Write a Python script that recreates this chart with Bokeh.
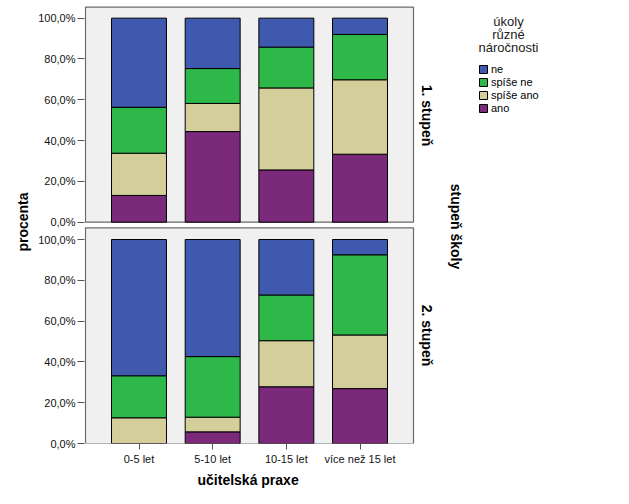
import math
from bokeh.plotting import figure
from bokeh.models import (ColumnDataSource, Range1d, FixedTicker, Label, Legend, LegendItem, Title)
from bokeh.embed import file_html
from bokeh.resources import INLINE

# ---------------- data ----------------
categories = ["0-5 let", "5-10 let", "10-15 let", "více než 15 let"]
answers = ["ano", "spíše ano", "spíše ne", "ne"]          # stacked bottom -> top
panels = ["1. stupeň", "2. stupeň"]

# 1. stupeň (percent of each category)
ano_1 = [13.1, 44.4, 25.6, 33.3]
spise_ano_1 = [20.7, 13.8, 40.2, 36.5]
spise_ne_1 = [22.5, 17.1, 20.0, 22.2]
ne_1 = [43.7, 24.7, 14.2, 8.0]

# 2. stupeň
ano_2 = [0.0, 5.7, 27.8, 26.9]
spise_ano_2 = [12.6, 7.2, 22.6, 26.3]
spise_ne_2 = [20.6, 29.7, 22.4, 39.3]
ne_2 = [66.8, 57.4, 27.2, 7.5]

y_ticks = [0, 20, 40, 60, 80, 100]
y_tick_labels = ["0,0%", "20,0%", "40,0%", "60,0%", "80,0%", "100,0%"]

colors = {"ano": "#7B2A7B", "spíše ano": "#D4CF9A", "spíše ne": "#2EB84A", "ne": "#3E59AD"}

# ---------------- layout constants ----------------
W, H = 600, 500
FRAME_L, FRAME_R = 84, 600
FRAME_H = 443
SPACING = 73.67
X0 = -(138.5 - FRAME_L) / SPACING
X1 = X0 + (FRAME_R - FRAME_L) / SPACING
PXU = 2.04                      # pixels per percent
Y0, Y1 = 0.0, FRAME_H / PXU
TOP_OFFSET = 108.5              # data offset of top panel's 0%
BOX_TOP_BOTTOM = 105.7          # bottom panel box top
BOX_TOP_TOP = 213.9             # top panel box top
BOX_L = -(138.5 - 85) / SPACING
BOX_R = 3 + (413 - 359.5) / SPACING
FONT = "Liberation Sans"

def dx(cx):
    return X0 + (cx - FRAME_L) / SPACING

def dy(cy):
    return (FRAME_H - cy) / PXU

p = figure(width=W, height=H, x_range=Range1d(X0, X1), y_range=Range1d(Y0, Y1),
           output_backend="svg", toolbar_location=None,
           min_border_left=FRAME_L, min_border_right=W - FRAME_R,
           min_border_top=0, min_border_bottom=H - FRAME_H)
p.outline_line_color = None
p.grid.visible = False
p.background_fill_color = "white"
p.border_fill_color = "white"

# panel boxes
p.quad(left=[BOX_L, BOX_L], right=[BOX_R, BOX_R],
       bottom=[0, TOP_OFFSET], top=[BOX_TOP_BOTTOM, BOX_TOP_TOP],
       fill_color="#F0F0F0", line_color="#6A6A6A", line_width=1.2)

# stacked bars
series = {
    "ano": (ano_1, ano_2),
    "spíše ano": (spise_ano_1, spise_ano_2),
    "spíše ne": (spise_ne_1, spise_ne_2),
    "ne": (ne_1, ne_2),
}
cum1 = [0.0] * len(categories)
cum2 = [0.0] * len(categories)
renderers = {}
for ans in answers:
    v1, v2 = series[ans]
    xs, bottoms, tops = [], [], []
    for i in range(len(categories)):
        xs.append(i); bottoms.append(TOP_OFFSET + cum1[i]); tops.append(TOP_OFFSET + cum1[i] + v1[i])
        cum1[i] += v1[i]
    for i in range(len(categories)):
        if v2[i] > 0:
            xs.append(i); bottoms.append(cum2[i]); tops.append(cum2[i] + v2[i])
        cum2[i] += v2[i]
    src = ColumnDataSource(dict(x=xs, bottom=bottoms, top=tops))
    renderers[ans] = p.vbar(x="x", bottom="bottom", top="top", width=0.746, source=src,
                            fill_color=colors[ans], line_color="black", line_width=1)

# axes
yt = y_ticks + [t + TOP_OFFSET for t in y_ticks]
p.yaxis.ticker = FixedTicker(ticks=yt)
ov = {}
for t, lab in zip(y_ticks, y_tick_labels):
    ov[float(t)] = lab
    ov[float(t + TOP_OFFSET)] = lab
p.yaxis.major_label_overrides = ov
p.yaxis.axis_line_color = None
p.yaxis.minor_tick_line_color = None
p.yaxis.major_tick_out = 7
p.yaxis.major_tick_in = 0
p.yaxis.major_tick_line_color = "#555555"
p.yaxis.major_label_standoff = 2
p.yaxis.major_label_text_font = FONT
p.yaxis.major_label_text_font_size = "11px"
p.yaxis.major_label_text_color = "#111111"
p.yaxis.axis_label = "procenta"
p.yaxis.axis_label_text_font = FONT
p.yaxis.axis_label_text_font_size = "14px"
p.yaxis.axis_label_text_font_style = "bold"
p.yaxis.axis_label_text_color = "black"
p.yaxis.axis_label_standoff = 4

p.xaxis.ticker = FixedTicker(ticks=list(range(len(categories))))
p.xaxis.major_label_overrides = {i: c for i, c in enumerate(categories)}
p.xaxis.axis_line_color = None
p.xaxis.minor_tick_line_color = None
p.xaxis.major_tick_out = 6
p.xaxis.major_tick_in = 0
p.xaxis.major_tick_line_color = "#555555"
p.xaxis.major_label_standoff = 3
p.xaxis.major_label_text_font = FONT
p.xaxis.major_label_text_font_size = "11px"
p.xaxis.major_label_text_color = "#111111"

# x-axis title, centred under the panels
p.add_layout(Title(text="učitelská praxe", align="left", offset=197 - FRAME_L,
                   text_font=FONT, text_font_size="14px", text_font_style="bold",
                   text_color="black", standoff=4), "below")

# panel labels (right side)
def vlabel(text, cx, cy, size="14px"):
    p.add_layout(Label(x=dx(cx), y=dy(cy), text=text, angle=-math.pi / 2,
                       text_align="center", text_baseline="middle",
                       text_font=FONT, text_font_size=size, text_font_style="bold",
                       text_color="black"))

vlabel(panels[0], 426, 115)
vlabel(panels[1], 426, 335)
vlabel("stupeň školy", 455, 226)

# legend title
for line, cy in zip(["úkoly", "různé", "náročnosti"], [20.7, 33.5, 46.7]):
    p.add_layout(Label(x=dx(508), y=dy(cy), text=line, text_align="center",
                       text_baseline="middle", text_font=FONT, text_font_size="13px",
                       text_color="#222222"))

legend = Legend(items=[LegendItem(label=a, renderers=[renderers[a]]) for a in ["ne", "spíše ne", "spíše ano", "ano"]],
                location=(478 - FRAME_L, FRAME_H - 114))
legend.background_fill_alpha = 0
legend.border_line_color = None
legend.padding = 0
legend.margin = 0
legend.spacing = 0
legend.glyph_width = 10
legend.glyph_height = 10
legend.label_height = 13
legend.label_standoff = 3
legend.label_text_font = FONT
legend.label_text_font_size = "11px"
legend.label_text_color = "black"
p.add_layout(legend)

open("out.html", "w").write(file_html(p, INLINE))
